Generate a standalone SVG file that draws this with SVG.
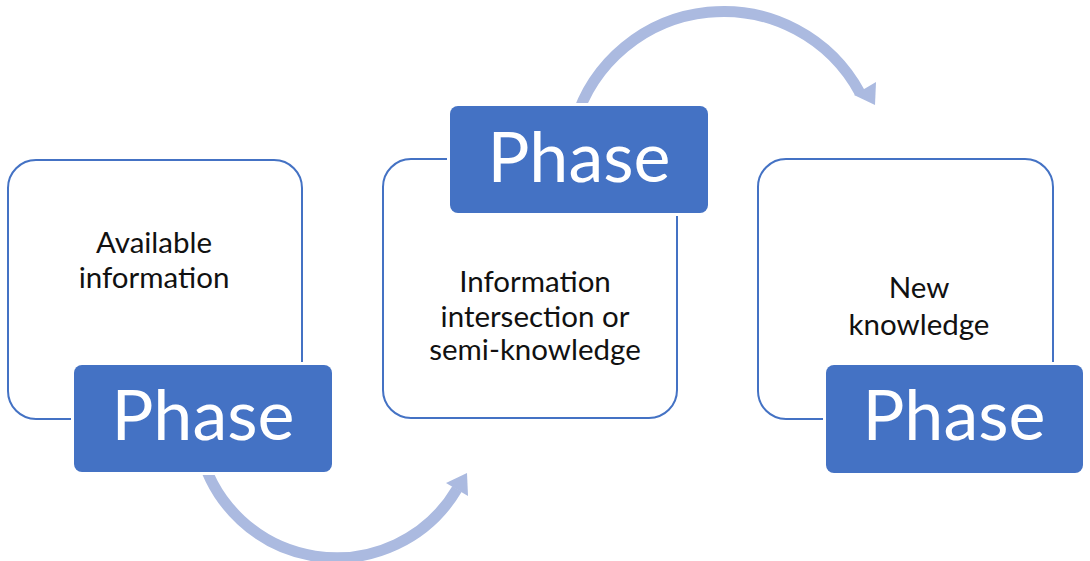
<svg xmlns="http://www.w3.org/2000/svg" width="1090" height="561" viewBox="0 0 1090 561">
<style>
.outline{fill:#fff;stroke:#4472C4;stroke-width:2}
.phase{fill:#4472C4;stroke:#fff;stroke-width:6;paint-order:stroke}
.ptxt{font-family:Lato,"Liberation Sans",sans-serif;font-size:70px;fill:#fff;text-anchor:middle}
.btxt{font-family:Lato,"Liberation Sans",sans-serif;font-size:29.5px;fill:#111;text-anchor:middle}
.arc{fill:none;stroke:#ABBAE0;stroke-width:11}
.head{fill:#ABBAE0}
</style>
<rect width="1090" height="561" fill="#fff"/>
<g id="connectors">
<path class="arc" d="M 200 449 A 140 140 0 0 0 457 489"/>
<polygon class="head" points="467,473 446,483 468,496"/>
<path class="arc" d="M 575 122 A 155 155 0 0 1 860 93"/>
<polygon class="head" points="875,105 854,95 876,82"/>
</g>
<g id="node1">
<rect class="outline" x="8" y="160" width="294" height="259" rx="28"/>
<text class="btxt" x="154" y="253">Available</text>
<text class="btxt" x="154" y="288">information</text>
<rect class="phase" x="74" y="365" width="258" height="107" rx="8"/>
<text class="ptxt" x="203" y="440">Phase</text>
</g>
<g id="node2">
<rect class="outline" x="383" y="159" width="294" height="259" rx="28"/>
<text class="btxt" x="535" y="292">Information</text>
<text class="btxt" x="535" y="327">intersection or</text>
<text class="btxt" x="535" y="360">semi-knowledge</text>
<rect class="phase" x="450" y="106" width="258" height="107" rx="8"/>
<text class="ptxt" x="579" y="182">Phase</text>
</g>
<g id="node3">
<rect class="outline" x="758" y="159" width="295" height="260" rx="28"/>
<text class="btxt" x="919" y="298">New</text>
<text class="btxt" x="919" y="335">knowledge</text>
<rect class="phase" x="826" y="365" width="257" height="108" rx="8"/>
<text class="ptxt" x="954" y="440">Phase</text>
</g>
</svg>
